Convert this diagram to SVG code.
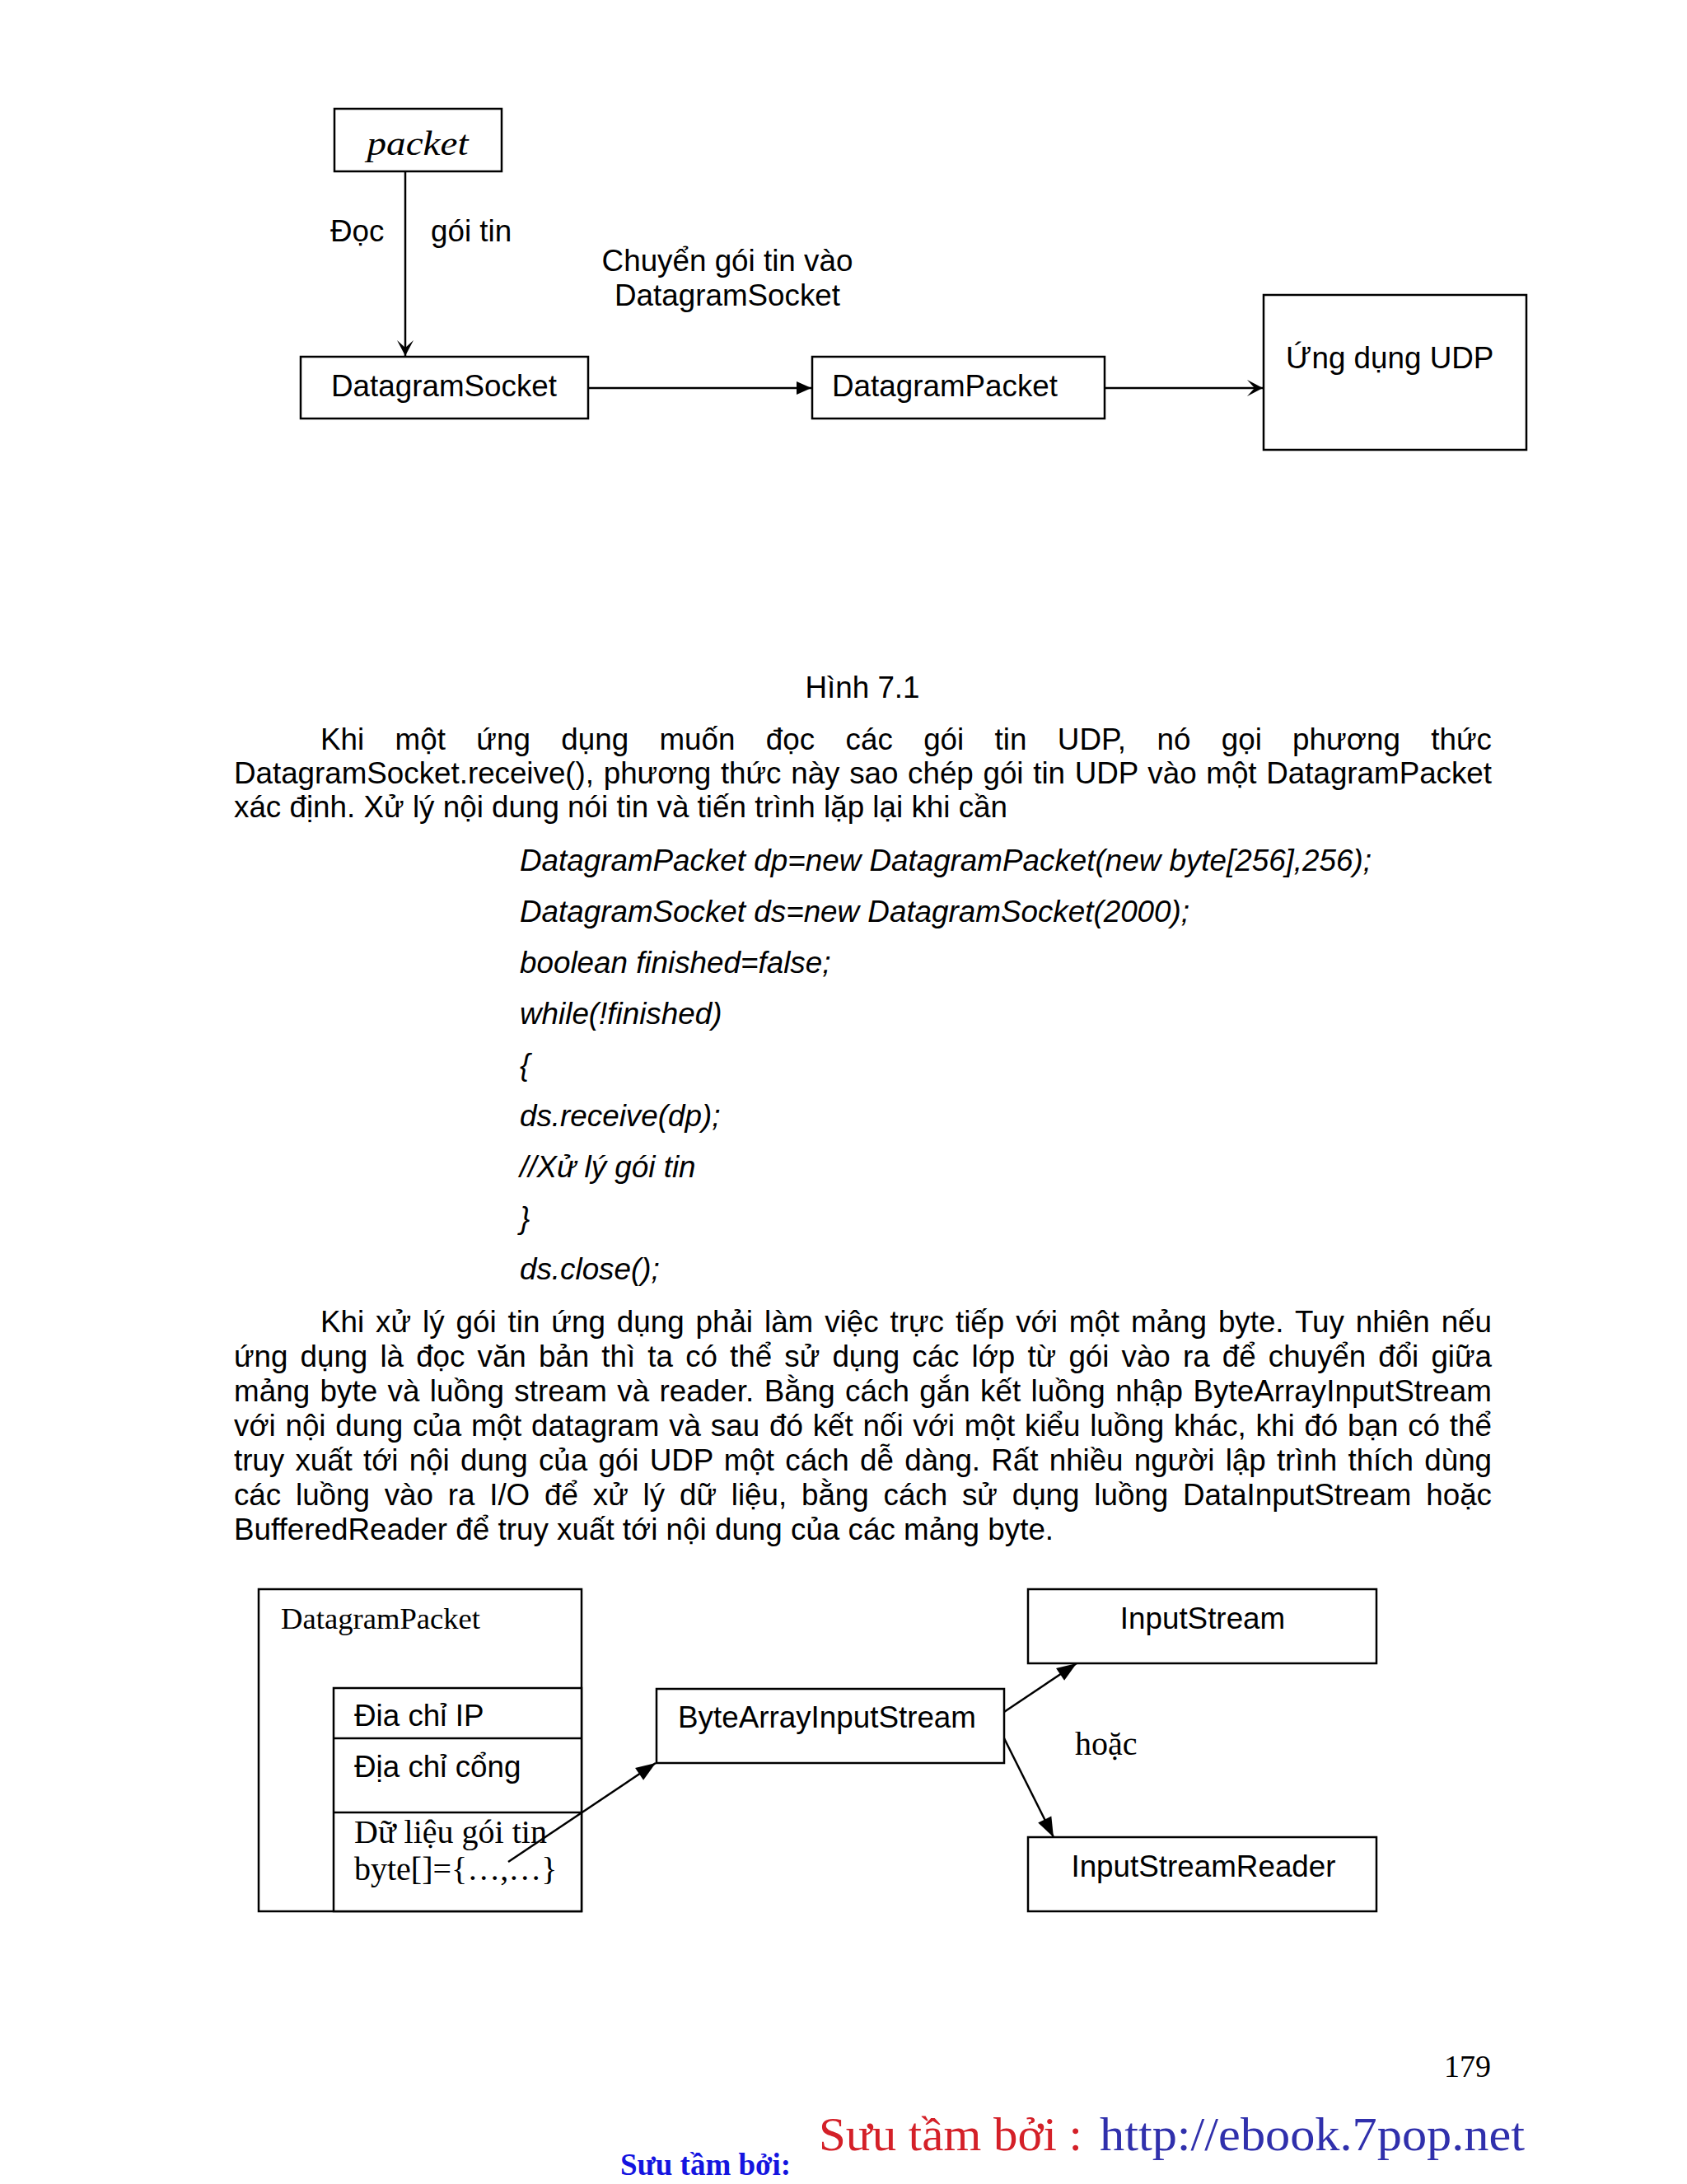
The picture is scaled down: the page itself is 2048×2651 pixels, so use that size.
<svg xmlns="http://www.w3.org/2000/svg" width="2048" height="2651" viewBox="0 0 2048 2651">
<style>
.box{fill:#fff;stroke:#000;stroke-width:2.5}
.ln{fill:none;stroke:#000;stroke-width:2.5}
.sans{font-family:"Liberation Sans",Arial,sans-serif;font-size:36.8px;fill:#000}
.serif{font-family:"Liberation Serif","Times New Roman",serif;fill:#000}
.it{font-style:italic}
.conn{fill:none;stroke:#000;stroke-width:2.5}
</style>
<defs>
<marker id="stealth" markerUnits="userSpaceOnUse" viewBox="-20 -11 21 22" markerWidth="21" markerHeight="22" refX="0" refY="0" orient="auto"><path d="M0,0 L-19,-10 L-10,0 L-19,10 Z" fill="#000"/></marker>
<marker id="triS" markerUnits="userSpaceOnUse" viewBox="-19 -9 20 18" markerWidth="20" markerHeight="18" refX="0" refY="0" orient="auto"><path d="M0,0 L-18,-8 L-18,8 Z" fill="#000"/></marker>
<marker id="tri" markerUnits="userSpaceOnUse" viewBox="-25 -10 26 20" markerWidth="26" markerHeight="20" refX="0" refY="0" orient="auto"><path d="M0,0 L-24,-9 L-24,9 Z" fill="#000"/></marker>
</defs>
<rect width="2048" height="2651" fill="#fff"/>

<!-- Figure 7.1 -->
<g id="node-packet">
<rect class="box" x="406" y="132" width="203" height="76"/>
<text class="serif it" x="507" y="188" font-size="42" text-anchor="middle" textLength="123" lengthAdjust="spacingAndGlyphs">packet</text>
</g>
<g id="node-datagramsocket">
<rect class="box" x="365" y="433" width="349" height="75"/>
<text class="sans" x="402" y="481">DatagramSocket</text>
</g>
<g id="node-datagrampacket">
<rect class="box" x="986" y="433" width="355" height="75"/>
<text class="sans" x="1010" y="481">DatagramPacket</text>
</g>
<g id="node-udpapp">
<rect class="box" x="1534" y="358" width="319" height="188"/>
<text class="sans" x="1561" y="447">Ứng dụng UDP</text>
</g>
<g id="labels-top">
<text class="sans" x="401" y="293">Đọc</text>
<text class="sans" x="523" y="293">gói tin</text>
<text class="sans" x="883" y="329" text-anchor="middle">Chuyển gói tin vào</text>
<text class="sans" x="883" y="371" text-anchor="middle">DatagramSocket</text>
</g>

<text class="sans" x="1047" y="847" text-anchor="middle">Hình 7.1</text>

<!-- Paragraph 1 -->
<g id="para1" class="sans">
<text x="389" y="910" word-spacing="27" textLength="1422" lengthAdjust="spacing">Khi một ứng dụng muốn đọc các gói tin UDP, nó gọi phương thức</text>
<text x="284" y="951" word-spacing="1.5" textLength="1527" lengthAdjust="spacing">DatagramSocket.receive(), phương thức này sao chép gói tin UDP vào một DatagramPacket</text>
<text x="284" y="992">xác định. Xử lý nội dung nói tin và tiến trình lặp lại khi cần</text>
</g>

<!-- Code -->
<g id="code" class="sans it">
<text x="631" y="1057">DatagramPacket dp=new DatagramPacket(new byte[256],256);</text>
<text x="631" y="1119">DatagramSocket ds=new DatagramSocket(2000);</text>
<text x="631" y="1181">boolean finished=false;</text>
<text x="631" y="1243">while(!finished)</text>
<text x="631" y="1305">{</text>
<text x="631" y="1367">ds.receive(dp);</text>
<text x="631" y="1429">//Xử lý gói tin</text>
<text x="631" y="1491">}</text>
<text x="631" y="1553">ds.close();</text>
</g>

<!-- Paragraph 2 -->
<g id="para2" class="sans">
<text x="389" y="1617" word-spacing="3.8" textLength="1422" lengthAdjust="spacing">Khi xử lý gói tin ứng dụng phải làm việc trực tiếp với một mảng byte. Tuy nhiên nếu</text>
<text x="284" y="1659" word-spacing="5.1" textLength="1527" lengthAdjust="spacing">ứng dụng là đọc văn bản thì ta có thể sử dụng các lớp từ gói vào ra để chuyển đổi giữa</text>
<text x="284" y="1701" word-spacing="2.1" textLength="1527" lengthAdjust="spacing">mảng byte và luồng stream và reader. Bằng cách gắn kết luồng nhập ByteArrayInputStream</text>
<text x="284" y="1743" word-spacing="1.6" textLength="1527" lengthAdjust="spacing">với nội dung của một datagram và sau đó kết nối với một kiểu luồng khác, khi đó bạn có thể</text>
<text x="284" y="1785" word-spacing="3.2" textLength="1527" lengthAdjust="spacing">truy xuất tới nội dung của gói UDP một cách dễ dàng. Rất nhiều người lập trình thích dùng</text>
<text x="284" y="1827" word-spacing="7.7" textLength="1527" lengthAdjust="spacing">các luồng vào ra I/O để xử lý dữ liệu, bằng cách sử dụng luồng DataInputStream hoặc</text>
<text x="284" y="1869">BufferedReader để truy xuất tới nội dung của các mảng byte.</text>
</g>

<!-- Second diagram -->
<g id="node-datagrampacket-struct">
<rect class="box" x="314" y="1929" width="392" height="391"/>
<text class="serif" x="341" y="1977" font-size="35" textLength="242" lengthAdjust="spacingAndGlyphs">DatagramPacket</text>
<rect class="box" x="405" y="2049" width="301" height="271"/>
<line class="ln" x1="405" y1="2110" x2="706" y2="2110"/>
<line class="ln" x1="405" y1="2200" x2="706" y2="2200"/>
<text class="sans" x="430" y="2095">Đia chỉ IP</text>
<text class="sans" x="430" y="2157">Địa chỉ cổng</text>
<text class="serif" x="430" y="2237" font-size="40">Dữ liệu gói tin</text>
<text class="serif" x="430" y="2282" font-size="40">byte[]={…,…}</text>
</g>
<g id="node-bytearrayinputstream">
<rect class="box" x="797" y="2050" width="422" height="90"/>
<text class="sans" x="823" y="2097">ByteArrayInputStream</text>
</g>
<g id="node-inputstream">
<rect class="box" x="1248" y="1929" width="423" height="90"/>
<text class="sans" x="1460" y="1977" text-anchor="middle">InputStream</text>
</g>
<g id="node-inputstreamreader">
<rect class="box" x="1248" y="2230" width="423" height="90"/>
<text class="sans" x="1461" y="2278" text-anchor="middle">InputStreamReader</text>
</g>
<text class="serif" x="1305" y="2130" font-size="40">hoặc</text>

<g id="connectors">
<line class="conn" x1="492" y1="208" x2="492" y2="432" marker-end="url(#stealth)"/>
<line class="conn" x1="714" y1="471" x2="985" y2="471" marker-end="url(#triS)"/>
<line class="conn" x1="1341" y1="471" x2="1533" y2="471" marker-end="url(#stealth)"/>
<line class="conn" x1="617" y1="2260" x2="796" y2="2140" marker-end="url(#tri)"/>
<line class="conn" x1="1219" y1="2078" x2="1307" y2="2019" marker-end="url(#tri)"/>
<line class="conn" x1="1219" y1="2110" x2="1279" y2="2230" marker-end="url(#tri)"/>
</g>

<!-- Footer -->
<text class="serif" x="1810" y="2521" font-size="38" text-anchor="end">179</text>
<text class="serif" x="994" y="2610" font-size="58" style="fill:#d42028" textLength="320" lengthAdjust="spacingAndGlyphs">Sưu tầm bởi :</text>
<text class="serif" x="1335" y="2610" font-size="58" style="fill:#3030ac" textLength="516" lengthAdjust="spacingAndGlyphs">http://ebook.7pop.net</text>
<text class="serif" x="753" y="2640" font-size="37" font-weight="bold" style="fill:#1414e0">Sưu tầm bởi:</text>
</svg>
